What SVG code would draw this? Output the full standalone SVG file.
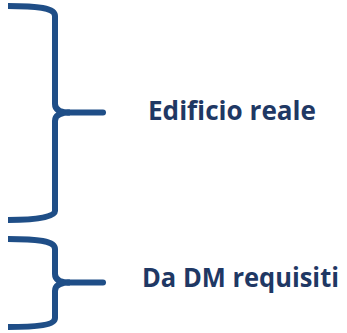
<svg xmlns="http://www.w3.org/2000/svg" width="347" height="333" viewBox="0 0 347 333">
<style>
.brace{fill:none;stroke:#1F4E87;stroke-width:6;stroke-linecap:butt;stroke-linejoin:round}
.tip{fill:none;stroke:#1F4E87;stroke-width:6;stroke-linecap:round}
.lbl{font-family:"Open Sans","Liberation Sans",sans-serif;font-weight:bold;font-size:27.5px;fill:#1F3864}
</style>
<rect width="347" height="333" fill="#ffffff"/>
<g id="brace-1">
<path class="brace" d="M8,6 C38,6 55,8 55,16 L55,104 C55,110 60,112.5 70,112.5 M70,112.5 C60,112.5 55,115 55,121 L55,211 C55,217 38,220 8,220"/>
<path class="tip" d="M68,112.5 L103,112.5"/>
</g>
<g id="brace-2">
<path class="brace" d="M8,239 C38,239 55,241 55,249 L55,274 C55,280 60,282.5 70,282.5 M70,282.5 C60,282.5 55,285 55,291 L55,318 C55,325 38,327 8,327"/>
<path class="tip" d="M68,282.5 L103,282.5"/>
</g>
<g id="label-1"><text class="lbl" x="148" y="120" textLength="168" lengthAdjust="spacingAndGlyphs">Edificio reale</text></g>
<g id="label-2"><text class="lbl" x="142" y="287" style="font-size:26.5px" textLength="197" lengthAdjust="spacingAndGlyphs">Da DM requisiti</text></g>
</svg>
